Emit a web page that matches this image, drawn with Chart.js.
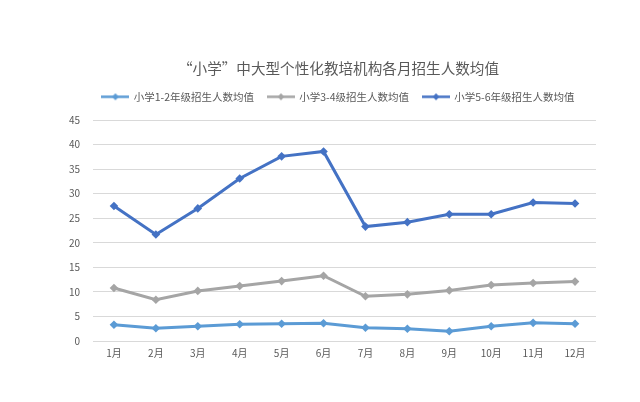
<!DOCTYPE html>
<html>
<head>
<meta charset="utf-8">
<script src="https://cdn.jsdelivr.net/npm/chart.js@4.4.0/dist/chart.umd.min.js"></script>
<style>
html,body{margin:0;padding:0;background:#fff;}
#wrap{position:absolute;left:0;top:0;width:640px;height:402px;}
</style>
</head>
<body>
<div id="wrap"><canvas id="c"></canvas></div>
<script>
const months = ["1月","2月","3月","4月","5月","6月","7月","8月","9月","10月","11月","12月"];
const seriesNames = ["小学1-2年级招生人数均值","小学3-4级招生人数均值","小学5-6年级招生人数均值"];
const grade12 = [3.3, 2.6, 3.0, 3.4, 3.5, 3.6, 2.7, 2.5, 2.0, 3.0, 3.7, 3.5];
const grade34 = [10.8, 8.4, 10.2, 11.2, 12.2, 13.3, 9.1, 9.5, 10.3, 11.4, 11.8, 12.1];
const grade56 = [27.5, 21.7, 27.0, 33.1, 37.6, 38.6, 23.3, 24.2, 25.8, 25.8, 28.2, 28.0];
const yTicks = {min: 0, max: 45, step: 5};
const titleText = "“小学”中大型个性化教培机构各月招生人数均值";

const colors = ["#5B9BD5", "#A5A5A5", "#4472C4"];
const FONT = "'Noto Sans CJK SC', 'Noto Sans', sans-serif";

function legendIcon(color){
  const c = document.createElement('canvas');
  c.width = 28; c.height = 9;
  const x = c.getContext('2d');
  x.strokeStyle = color; x.lineWidth = 2.5;
  x.beginPath(); x.moveTo(0, 4.5); x.lineTo(28, 4.5); x.stroke();
  x.fillStyle = color;
  x.beginPath(); x.moveTo(14, 1); x.lineTo(17.5, 4.5); x.lineTo(14, 8); x.lineTo(10.5, 4.5); x.closePath(); x.fill();
  return c;
}

const dataSets = [grade12, grade34, grade56].map((d, i) => ({
  label: seriesNames[i],
  data: d,
  borderColor: colors[i],
  backgroundColor: colors[i],
  borderWidth: 3,
  pointStyle: 'rectRot',
  pointRadius: 4.3,
  pointBorderWidth: 0,
  pointBackgroundColor: colors[i],
  tension: 0,
  fill: false
}));

const spacerAxis = (pos, size) => ({
  type: 'linear',
  position: pos,
  display: true,
  grid: {display: false, drawTicks: false},
  border: {display: false},
  ticks: {display: false},
  afterFit(s){ if (pos === 'top') { s.height = size; } else { s.width = size; } }
});

new Chart(document.getElementById('c'), {
  type: 'line',
  data: {labels: months, datasets: dataSets},
  options: {
    responsive: true,
    maintainAspectRatio: false,
    animation: false,
    layout: {padding: {left: 66, right: 29, top: 60, bottom: 37}},
    plugins: {
      title: {
        display: true,
        text: titleText,
        color: '#595959',
        font: {family: FONT, size: 14.6, weight: 'normal'},
        padding: {top: 0, bottom: 0}
      },
      legend: {
        display: true,
        position: 'top',
        labels: {
          usePointStyle: true,
          pointStyleWidth: 26,
          color: '#595959',
          font: {family: FONT, size: 10.5},
          padding: 14,
          generateLabels(chart){
            return chart.data.datasets.map((ds, i) => ({
              text: ds.label,
              pointStyle: legendIcon(colors[i]),
              fillStyle: colors[i],
              strokeStyle: colors[i],
              lineWidth: 0,
              hidden: false,
              datasetIndex: i,
              fontColor: '#595959'
            }));
          }
        }
      },
      tooltip: {enabled: false}
    },
    scales: {
      x: {
        offset: true,
        grid: {display: false, drawTicks: false},
        border: {display: false},
        ticks: {color: '#595959', font: {family: FONT, size: 10}, padding: 6, maxRotation: 0}
      },
      y: {
        min: yTicks.min,
        max: yTicks.max,
        afterFit(scale){ scale.width = 27; },
        grid: {color: '#D9D9D9', lineWidth: 1, drawTicks: false},
        border: {display: false},
        ticks: {stepSize: yTicks.step, color: '#595959', font: {family: FONT, size: 10}, padding: 13}
      },
      spacerRight: spacerAxis('right', 15),
      spacerTop: spacerAxis('top', 8)
    }
  }
});
</script>
</body>
</html>
